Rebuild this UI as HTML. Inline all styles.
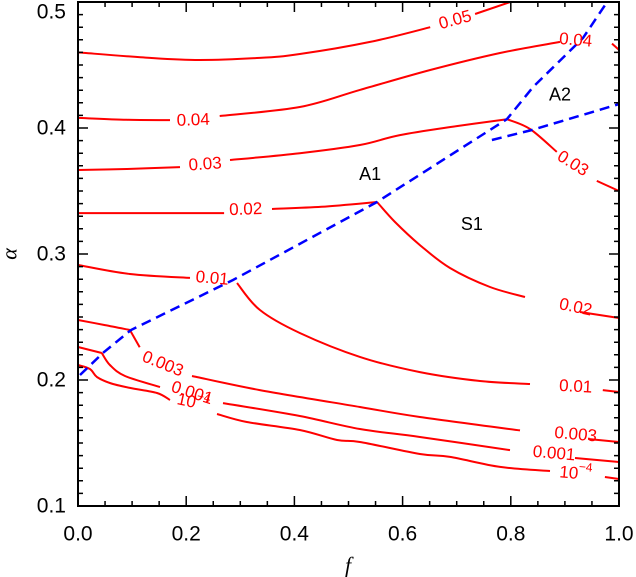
<!DOCTYPE html>
<html><head><meta charset="utf-8"><style>
html,body{margin:0;padding:0;background:#fff;}
svg{display:block;font-family:"Liberation Sans",sans-serif;}
</style></head><body>
<svg id="chart" width="636" height="577" viewBox="0 0 636 577" xmlns="http://www.w3.org/2000/svg">
<g id="marks"></g>
<g id="axes"></g>
</svg>
<script>
// ---- data ----
const xTicks = [0.0, 0.2, 0.4, 0.6, 0.8, 1.0];
const yTicks = [0.1, 0.2, 0.3, 0.4, 0.5];
const contourLevels = ["0.05","0.04","0.03","0.02","0.01","0.003","0.001","1e-4"];
const c005 = [[[0,0.460],[0.133,0.4556],[0.225,0.454],[0.336,0.4556],[0.41,0.4587],[0.54,0.4683],[0.651,0.48]],[[0.734,0.4905],[0.799,0.5]]];
const c004 = [[[0,0.408],[0.09,0.4065],[0.17,0.4063]],[[0.262,0.4095],[0.41,0.4167],[0.521,0.4302],[0.651,0.446],[0.78,0.4595],[0.891,0.4683]],[[0.987,0.467],[1.0,0.462]]];
const c003 = [[[0,0.3667],[0.09,0.3675],[0.1885,0.369]],[[0.281,0.3746],[0.41,0.38],[0.521,0.3865],[0.595,0.3944],[0.7,0.4015],[0.793,0.407]],[[0.793,0.407],[0.8355,0.3992],[0.885,0.381]],[[0.959,0.358],[1.0,0.35]]];
const c002 = [[[0,0.3325],[0.27,0.3325]],[[0.3586,0.3357],[0.45,0.3375],[0.5527,0.3413]],[[0.5527,0.3413],[0.586,0.3254],[0.632,0.3071],[0.6876,0.2889],[0.7616,0.2738],[0.8262,0.2659]],[[0.928,0.254],[1.0,0.2492]]];
const c001 = [[[0,0.2913],[0.096,0.2841],[0.207,0.281]],[[0.2939,0.277],[0.336,0.2556],[0.41,0.2373],[0.521,0.2183],[0.632,0.2063],[0.743,0.1992],[0.8355,0.1968]],[[0.97,0.192],[1.0,0.1905]]];
const c0003 = [[[0,0.2476],[0.05,0.2436],[0.096,0.2397]],[[0.096,0.2397],[0.114,0.226]],[[0.2107,0.2032],[0.336,0.192],[0.521,0.1786],[0.632,0.1706],[0.817,0.16]],[[0.943,0.1532],[1.0,0.1508]]];
const c0001 = [[[0,0.2262],[0.044,0.2214]],[[0.044,0.2214],[0.059,0.2119],[0.0869,0.2032],[0.1516,0.1944]],[[0.268,0.1817],[0.41,0.1714],[0.521,0.1611],[0.632,0.1548],[0.7985,0.1444]],[[0.9187,0.1381],[1.0,0.1349]]];
const c1e4 = [[[0,0.2119],[0.022,0.2087],[0.035,0.2024],[0.059,0.1976],[0.096,0.1937],[0.146,0.1897],[0.17,0.1841]],[[0.257,0.173],[0.312,0.1667],[0.41,0.1603],[0.479,0.1524],[0.521,0.1508],[0.632,0.1413],[0.6876,0.139],[0.78,0.131],[0.8725,0.1278]],[[0.974,0.123],[1.0,0.1214]]];
const boundaryA = [[0.0037,0.204],[0.046,0.2214],[0.098,0.2397],[0.2865,0.2794],[0.5527,0.3413],[0.793,0.4071],[0.841,0.4325],[0.9335,0.4714],[0.978,0.5]];
const boundaryB = [[0.765,0.3905],[0.839,0.3984],[1.0,0.419]];
const labelF = [0.697, 0.213, 0.235, 0.31, 0.248, 0.157, 0.211, 0.213, 0.92, 0.915, 0.92, 0.92, 0.92, 0.88, 0.92];
const labelA = [0.486, 0.4065, 0.3715, 0.3357, 0.2810, 0.213, 0.190, 0.1825, 0.47, 0.372, 0.258, 0.195, 0.157, 0.142, 0.126];
const labelText = ["0.05","0.04","0.03","0.02","0.01","0.003","0.001","10-4","0.04","0.03","0.02","0.01","0.003","0.001","10-4"];
const labelRot = [-15, -2, -4, -2, 5, 22, 18, 12, 5, 32, 12, 3, 5, 5, 5];
const regionText = ["A1","A2","S1"];
const regionF = [0.54, 0.891, 0.728];
const regionA = [0.3635, 0.4267, 0.3237];

// ---- scales ----
const X0=78, X1=619, Y0=506, Y1=2;
const sx = f => X0 + (X1-X0)*f;
const sy = a => Y0 - (Y0-Y1)*(a-0.1)/0.4;
const NS="http://www.w3.org/2000/svg";
const marks=document.getElementById('marks'), axes=document.getElementById('axes');
function mk(tag, parent){const e=document.createElementNS(NS,tag);parent.appendChild(e);return e;}
function pathOf(pts){return pts.map((p,i)=>(i?'L':'M')+sx(p[0]).toFixed(1)+' '+sy(p[1]).toFixed(1)).join(' ');}
function smoothOf(pts){
  const P=pts.map(p=>[sx(p[0]),sy(p[1])]);
  if(P.length<3) return 'M'+P.map(p=>p[0].toFixed(1)+' '+p[1].toFixed(1)).join(' L');
  let d='M'+P[0][0].toFixed(1)+' '+P[0][1].toFixed(1);
  for(let i=0;i<P.length-1;i++){
    const p0=P[Math.max(0,i-1)],p1=P[i],p2=P[i+1],p3=P[Math.min(P.length-1,i+2)];
    const c1=[p1[0]+(p2[0]-p0[0])/6,p1[1]+(p2[1]-p0[1])/6];
    const c2=[p2[0]-(p3[0]-p1[0])/6,p2[1]-(p3[1]-p1[1])/6];
    d+=` C${c1[0].toFixed(1)} ${c1[1].toFixed(1)} ${c2[0].toFixed(1)} ${c2[1].toFixed(1)} ${p2[0].toFixed(1)} ${p2[1].toFixed(1)}`;
  }
  return d;
}

const contours=[c005,c004,c003,c002,c001,c0003,c0001,c1e4];
contours.forEach((segs,ci)=>{
  segs.forEach(seg=>{
    const p=mk('path',marks);
    p.setAttribute('d',smoothOf(seg));
    p.setAttribute('fill','none');p.setAttribute('stroke','#f00');p.setAttribute('stroke-width','2');
    p.setAttribute('stroke-linejoin','round');
    
    
  });
});
[boundaryA,boundaryB].forEach((b,i)=>{
  const p=mk('path',marks);
  p.setAttribute('d',pathOf(b));
  p.setAttribute('fill','none');p.setAttribute('stroke','#00f');p.setAttribute('stroke-width','2.5');
  p.setAttribute('stroke-dasharray','10 6');
  
  
});
labelText.forEach((t,i)=>{
  const x=sx(labelF[i]), y=sy(labelA[i]);
  const tx=mk('text',marks);
  tx.setAttribute('x',x);tx.setAttribute('y',y);
  tx.setAttribute('fill','#f00');tx.setAttribute('font-size','17');
  tx.setAttribute('text-anchor','middle');tx.setAttribute('dominant-baseline','central');
  tx.setAttribute('transform','rotate('+labelRot[i]+' '+x+' '+y+')');
  if(t==='10-4'){ tx.innerHTML='10<tspan dy="-7" font-size="12">−4</tspan>'; }
  else tx.textContent=t;
  
  
});
regionText.forEach((t,i)=>{
  const tx=mk('text',marks);
  tx.setAttribute('x',sx(regionF[i]));tx.setAttribute('y',sy(regionA[i]));
  tx.setAttribute('font-size','18');tx.setAttribute('text-anchor','middle');tx.setAttribute('dominant-baseline','central');
  tx.textContent=t;
  
  
});

// ---- axes ----
const frame=mk('rect',axes);
frame.setAttribute('x',X0);frame.setAttribute('y',Y1);frame.setAttribute('width',X1-X0);frame.setAttribute('height',Y0-Y1);
frame.setAttribute('fill','none');frame.setAttribute('stroke','#000');frame.setAttribute('stroke-width','2');


let td='';
for(let i=0;i<=20;i++){const f=i/20,x=sx(f),L=(i%4===0)?10:5;td+=`M${x} ${Y0}v${-L}M${x} ${Y1}v${L}`;}
for(let i=0;i<=40;i++){const a=0.1+i*0.01,y=sy(a),L=(i%10===0)?10:5;td+=`M${X0} ${y}h${L}M${X1} ${y}h${-L}`;}
const tp=mk('path',axes);tp.setAttribute('d',td);tp.setAttribute('stroke','#000');tp.setAttribute('stroke-width','1.5');


xTicks.forEach(v=>{
  const t=mk('text',axes);t.setAttribute('x',sx(v));t.setAttribute('y',534);
  t.setAttribute('font-size','21');t.setAttribute('text-anchor','middle');t.setAttribute('dominant-baseline','central');
  t.textContent=v.toFixed(1);
  
  
});
yTicks.forEach(v=>{
  const t=mk('text',axes);t.setAttribute('x',66);t.setAttribute('y',Math.max(12,sy(v)));
  t.setAttribute('font-size','21');t.setAttribute('text-anchor','end');t.setAttribute('dominant-baseline','central');
  t.textContent=v.toFixed(1);
  
  
});
const xt=mk('text',axes);xt.setAttribute('x',348);xt.setAttribute('y',565);xt.setAttribute('font-size','22');
xt.setAttribute('font-style','italic');xt.setAttribute('font-family','"Liberation Serif",serif');
xt.setAttribute('text-anchor','middle');xt.setAttribute('dominant-baseline','central');xt.textContent='f';


const yt=mk('text',axes);yt.setAttribute('x',9);yt.setAttribute('y',254);yt.setAttribute('font-size','22');
yt.setAttribute('font-style','italic');yt.setAttribute('font-family','"Liberation Serif",serif');
yt.setAttribute('text-anchor','middle');yt.setAttribute('dominant-baseline','central');
yt.setAttribute('transform','rotate(-90 9 254)');yt.textContent='α';


</script>
</body></html>
